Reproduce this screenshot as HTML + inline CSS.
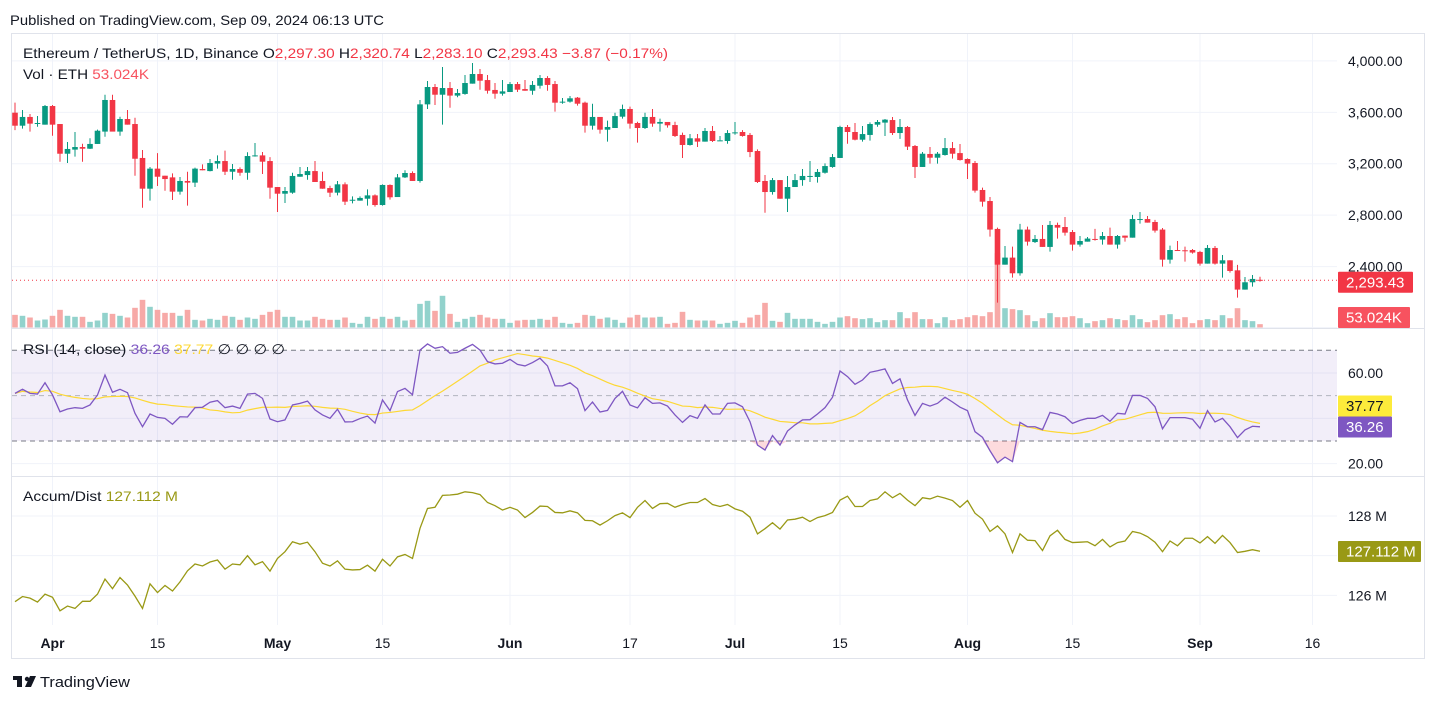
<!DOCTYPE html>
<html><head><meta charset="utf-8">
<style>
html,body{margin:0;padding:0;background:#fff;}
body{width:1438px;height:703px;overflow:hidden;font-family:"Liberation Sans",sans-serif;}
svg text{font-family:"Liberation Sans",sans-serif;}
</style></head>
<body>
<svg id="c" width="1438" height="703" xmlns="http://www.w3.org/2000/svg">
<text x="10" y="25" font-size="14" fill="#131722" textLength="374" lengthAdjust="spacingAndGlyphs">Published on TradingView.com, Sep 09, 2024 06:13 UTC</text>
<rect x="11.5" y="33.5" width="1413" height="625" fill="none" stroke="#e0e3eb"/>
<g id="grid"></g>
<rect x="12" y="350.3" width="1325" height="90.7" fill="rgba(126,87,194,0.1)"/>
<g id="marks"></g>
<line x1="12" y1="328.5" x2="1425" y2="328.5" stroke="#e0e3eb"/>
<line x1="12" y1="476.5" x2="1425" y2="476.5" stroke="#e0e3eb"/>
<g id="axes"></g>
<text x="23" y="58" font-size="14" fill="#131722" textLength="645" lengthAdjust="spacingAndGlyphs">Ethereum / TetherUS, 1D, Binance  O<tspan fill="#f23645">2,297.30</tspan>  H<tspan fill="#f23645">2,320.74</tspan>  L<tspan fill="#f23645">2,283.10</tspan>  C<tspan fill="#f23645">2,293.43</tspan>  <tspan fill="#f23645">−3.87 (−0.17%)</tspan></text>
<text x="23" y="79" font-size="14" fill="#131722" textLength="126" lengthAdjust="spacingAndGlyphs">Vol · ETH  <tspan fill="#f7525f">53.024K</tspan></text>
<text x="23" y="354" font-size="14" fill="#131722" textLength="262" lengthAdjust="spacingAndGlyphs">RSI (14, close) <tspan fill="#7e57c2">36.26</tspan> <tspan fill="#fdd835">37.77</tspan> <tspan fill="#131722">∅ ∅ ∅ ∅</tspan></text>
<text x="23" y="501" font-size="14" fill="#131722" textLength="155" lengthAdjust="spacingAndGlyphs">Accum/Dist  <tspan fill="#999915">127.112 M</tspan></text>
<g>
<rect x="13" y="676" width="9" height="4" fill="#131722"/><rect x="17" y="676" width="5" height="11" fill="#131722"/><circle cx="27" cy="679" r="2.2" fill="#131722"/><polygon points="30,676 36,676 31,687 25,687" fill="#131722"/>
<text x="40" y="687" font-size="15" fill="#131722" textLength="90" lengthAdjust="spacingAndGlyphs">TradingView</text>
</g>
</svg>
<script>
const opens=[3597,3496,3564,3512,3504,3649,3509,3278,3310,3330,
3317,3354,3450,3696,3450,3548,3509,3245,3006,3162,
3107,3094,2983,3066,3053,3159,3143,3201,3221,3138,
3159,3130,3260,3265,3221,3019,2967,2975,3099,3112,
3143,3066,3011,2975,3040,2918,2913,2928,2954,2879,
3035,2941,3094,3128,3066,3662,3797,3737,3789,3730,
3743,3823,3898,3851,3774,3745,3758,3820,3781,3768,
3807,3867,3820,3683,3683,3714,3675,3496,3564,3465,
3478,3566,3626,3517,3478,3564,3512,3525,3501,3424,
3346,3398,3372,3455,3382,3377,3439,3447,3424,3299,
3066,2980,3073,2928,3019,3073,3105,3097,3130,3175,
3245,3486,3447,3387,3424,3504,3520,3540,3439,3486,
3338,3175,3276,3247,3268,3322,3283,3237,3206,2996,
2910,2693,2415,2470,2348,2688,2591,2615,2553,2724,
2708,2669,2571,2594,2615,2610,2638,2571,2641,2625,
2770,2770,2747,2688,2454,2529,2527,2529,2514,2423,
2545,2423,2449,2371,2221,2278,2297.30];
const highs=[3675,3618,3587,3571,3657,3657,3509,3369,3447,3356,
3398,3465,3737,3737,3566,3618,3558,3307,3175,3283,
3107,3125,3097,3138,3170,3195,3237,3265,3302,3198,
3172,3289,3361,3291,3252,3019,3019,3130,3175,3175,
3221,3138,3029,3066,3055,2946,2946,3001,2962,3040,
3040,3120,3149,3141,3696,3844,3820,3953,3836,3781,
3890,3984,3937,3890,3828,3851,3836,3836,3851,3844,
3890,3882,3844,3711,3727,3719,3683,3667,3564,3535,
3597,3660,3644,3527,3597,3626,3551,3525,3527,3442,
3431,3431,3478,3494,3416,3462,3525,3462,3439,3312,
3112,3089,3073,3105,3120,3159,3221,3159,3203,3276,
3496,3501,3517,3494,3522,3540,3548,3564,3548,3494,
3346,3291,3330,3291,3400,3369,3354,3242,3221,3014,
2941,2703,2560,2555,2732,2711,2646,2724,2755,2742,
2786,2685,2638,2630,2693,2669,2703,2646,2641,2802,
2825,2794,2763,2700,2563,2599,2555,2537,2522,2568,
2560,2490,2449,2413,2319,2335,2320.74];
const lows=[3462,3473,3450,3488,3504,3418,3216,3206,3255,3216,
3315,3354,3410,3457,3418,3504,3107,2858,2913,3027,
2990,2918,2960,2874,3019,3149,3141,3162,3112,3076,
3107,3076,3255,3120,2928,2825,2895,2967,3099,3076,
3058,3006,2941,2954,2879,2892,2913,2874,2866,2874,
2921,2941,3089,3066,3053,3626,3657,3504,3636,3717,
3737,3823,3776,3745,3706,3730,3758,3758,3768,3737,
3784,3768,3605,3667,3675,3652,3442,3465,3434,3372,
3478,3551,3473,3364,3470,3488,3450,3481,3408,3245,
3341,3330,3372,3369,3382,3356,3426,3411,3252,3050,
2819,2960,2928,2825,3019,3029,3058,3053,3123,3169,
3245,3356,3382,3372,3380,3488,3416,3424,3393,3307,
3089,3175,3201,3201,3263,3240,3224,3081,2975,2866,
2633,2120,2415,2314,2330,2563,2584,2553,2516,2618,
2641,2524,2555,2594,2602,2571,2571,2540,2594,2625,
2734,2742,2664,2400,2423,2522,2439,2501,2408,2423,
2415,2314,2353,2159,2221,2244,2283.10];
const closes=[3496,3564,3512,3517,3649,3504,3278,3315,3330,3317,
3354,3457,3696,3450,3548,3504,3239,3006,3162,3099,
3081,2983,3066,3053,3162,3149,3206,3221,3138,3159,
3130,3260,3265,3216,3014,2967,2988,3105,3120,3143,
3058,3006,2975,3040,2905,2920,2934,2954,2879,3035,
2939,3094,3128,3066,3662,3797,3737,3789,3730,3750,
3828,3898,3846,3768,3745,3763,3820,3776,3768,3813,
3867,3813,3675,3683,3709,3667,3496,3564,3465,3486,
3571,3626,3512,3478,3564,3512,3525,3499,3416,3346,
3398,3372,3455,3377,3382,3439,3444,3416,3291,3058,
2980,3073,2928,3019,3073,3105,3105,3136,3182,3252,
3486,3447,3387,3431,3509,3525,3543,3439,3486,3333,
3175,3278,3247,3278,3322,3278,3229,3201,2991,2905,
2688,2415,2470,2348,2688,2594,2615,2553,2724,2703,
2664,2571,2599,2618,2610,2638,2571,2638,2625,2770,
2770,2742,2680,2454,2529,2527,2522,2509,2423,2545,
2423,2449,2366,2221,2278,2304,2293.43];
const volumes=[201,186,159,111,127,186,281,186,170,170,
90,111,233,217,186,159,313,440,329,281,
233,233,186,281,122,111,138,122,186,170,
122,159,138,201,249,281,170,170,111,111,
170,138,122,122,159,74,58,170,138,170,
138,170,111,122,376,424,265,504,217,90,
138,170,201,159,138,138,74,111,122,122,
138,122,170,74,58,74,201,186,138,159,
122,74,159,201,159,159,170,58,74,249,
122,111,111,111,58,74,106,74,159,201,
392,106,90,233,138,138,138,90,58,90,
159,180,148,133,148,85,117,117,244,148,
244,133,133,69,164,117,133,164,196,180,
244,1182,307,292,276,196,101,148,228,164,
164,180,148,69,101,117,148,133,117,196,
133,85,117,196,212,133,164,69,117,133,
117,196,148,307,117,101,53.024];
const rsi=[51.0,52.8,51.0,50.7,55.7,50.3,42.9,44.1,44.7,44.4,
45.9,50.3,59.1,51.5,52.8,51.3,42.2,36.3,41.9,40.4,
40.0,37.4,40.7,40.6,44.7,44.9,47.1,47.8,44.7,45.4,
44.4,50.7,51.0,48.8,39.7,38.5,39.3,45.9,46.6,47.6,
43.7,41.5,40.0,44.0,38.4,38.5,39.9,41.0,37.9,48.1,
43.4,51.8,53.2,50.4,70.1,72.8,70.9,71.6,68.7,69.1,
70.9,72.6,70.1,65.0,64.0,64.3,66.0,63.8,63.1,64.6,
66.5,63.1,54.3,54.3,55.7,53.1,43.4,47.2,42.8,43.5,
48.8,51.9,45.9,44.6,49.1,46.6,46.8,45.4,41.5,38.2,
41.2,40.0,45.9,41.9,41.9,46.6,46.8,45.1,38.5,28.2,
26.0,32.4,28.2,34.4,37.1,39.3,39.4,41.9,44.7,49.3,
60.9,58.4,55.0,56.9,60.3,61.0,61.8,55.4,57.4,48.1,
41.3,46.6,45.4,46.6,49.3,47.2,44.9,43.4,34.1,31.6,
25.7,20.4,22.9,20.9,38.2,36.3,36.3,35.0,42.6,41.9,
40.7,37.8,39.1,40.0,40.0,41.3,38.7,42.2,41.9,50.1,
50.1,48.8,45.1,35.4,40.3,40.3,40.3,39.6,35.6,43.4,
38.4,40.0,36.3,31.5,34.9,36.5,36.26];
const accDist=[125.84,125.97,125.93,125.83,126.03,125.95,125.61,125.73,125.67,125.85,
125.85,126.03,126.41,126.17,126.45,126.26,125.98,125.67,126.29,126.07,
126.25,126.11,126.34,126.62,126.79,126.74,126.84,126.89,126.66,126.79,
126.77,127.00,126.77,126.85,126.61,126.93,127.10,127.35,127.29,127.34,
127.10,126.81,126.74,126.87,126.66,126.64,126.65,126.76,126.61,126.91,
126.74,126.97,127.03,126.93,127.69,128.19,128.22,128.52,128.53,128.55,
128.61,128.59,128.54,128.34,128.26,128.15,128.22,128.15,127.96,128.09,
128.25,128.24,128.09,128.08,128.13,128.08,127.89,127.88,127.77,127.88,
128.01,128.08,127.96,128.22,128.39,128.19,128.31,128.32,128.22,128.29,
128.34,128.34,128.44,128.29,128.24,128.29,128.18,128.12,127.97,127.55,
127.68,127.83,127.67,127.90,127.92,127.97,127.86,127.96,128.01,128.09,
128.40,128.50,128.24,128.24,128.39,128.43,128.61,128.46,128.57,128.40,
128.26,128.46,128.43,128.50,128.45,128.39,128.22,128.39,128.07,127.92,
127.61,127.75,127.55,127.08,127.55,127.39,127.38,127.13,127.50,127.64,
127.41,127.33,127.34,127.35,127.25,127.41,127.22,127.33,127.37,127.61,
127.57,127.48,127.34,127.10,127.37,127.25,127.44,127.44,127.32,127.48,
127.31,127.51,127.33,127.08,127.11,127.15,127.112];
const priceTicks=[4000,3600,3200,2800,2400];
const priceTickLabels=["4,000.00","3,600.00","3,200.00","2,800.00","2,400.00"];
const rsiTicks=[60,20];
const rsiTickLabels=["60.00","20.00"];
const adTicks=[128,126];
const adTickLabels=["128 M","126 M"];
const dateTickIdx=[5,19,35,49,66,82,96,110,127,141,158,173];
const dateTickLabels=["Apr","15","May","15","Jun","17","Jul","15","Aug","15","Sep","16"];
const dateTickBold=[1,0,1,0,1,0,1,0,1,0,1,0];

const NS="http://www.w3.org/2000/svg";
const X=i=>15+7.5*i;
const YP=p=>60.9+(4000-p)*0.12856;
const YV=v=>327.5-v*0.0629;
const YR=v=>350.3+(70-v)*2.2675;
const YA=m=>516+(128-m)*39.67;
function mk(tag,attrs,parent){const e=document.createElementNS(NS,tag);for(const k in attrs)e.setAttribute(k,attrs[k]);parent.appendChild(e);return e;}
const grid=document.getElementById('grid'),marks=document.getElementById('marks'),axes=document.getElementById('axes');
dateTickIdx.forEach((d,k)=>{
  const x=X(d);
  const l=mk('line',{x1:x,y1:34,x2:x,y2:625,stroke:'#f0f3fa'},grid);
  
  
  const t=mk('text',{x:x,y:648,'font-size':14,'text-anchor':'middle',fill:'#131722','font-weight':dateTickBold[k]?'bold':'normal'},axes);
  t.textContent=dateTickLabels[k];
  
  
});
priceTicks.forEach((p,k)=>{
  const y=YP(p);
  const l=mk('line',{x1:12,y1:y,x2:1337,y2:y,stroke:'#f0f3fa'},grid);
  
  
  const t=mk('text',{x:1348,y:y+5,'font-size':14,fill:'#131722'},axes);
  t.textContent=priceTickLabels[k];
  
  
});
[80,60,40,20].forEach(v=>{const l=mk('line',{x1:12,y1:YR(v),x2:1337,y2:YR(v),stroke:'#f0f3fa'},grid);
  
  });
rsiTicks.forEach((v,k)=>{const t=mk('text',{x:1348,y:YR(v)+5,'font-size':14,fill:'#131722'},axes);t.textContent=rsiTickLabels[k];
  
  });
[128,127,126].forEach(v=>{const l=mk('line',{x1:12,y1:YA(v),x2:1337,y2:YA(v),stroke:'#f0f3fa'},grid);
  
  });
adTicks.forEach((v,k)=>{const t=mk('text',{x:1348,y:YA(v)+5,'font-size':14,fill:'#131722'},axes);t.textContent=adTickLabels[k];
  
  });
[70,50,30].forEach(v=>{const l=mk('line',{x1:12,y1:YR(v),x2:1337,y2:YR(v),stroke:v==50?'#b2b5be':'#787b86','stroke-dasharray':'5,4'},marks);
  
  });
volumes.forEach((v,i)=>{const up=closes[i]>=opens[i];
  const r=mk('rect',{x:X(i)-2.8,y:YV(v),width:5.6,height:327.5-YV(v),fill:up?'#92d2cc':'#f7a9a7'},marks);
  
  });
opens.forEach((o,i)=>{const c=closes[i],up=c>=o,col=up?'#089981':'#f23645',x=X(i);
  const w=mk('line',{x1:x,y1:YP(highs[i]),x2:x,y2:YP(lows[i]),stroke:col,'stroke-width':1},marks);
  
  
  const top=YP(Math.max(o,c)),h=Math.max(1,YP(Math.min(o,c))-top);
  const b=mk('rect',{x:x-2.8,y:top,width:5.6,height:h,fill:col},marks);
  
  });
const lp=closes[closes.length-1];
const pl=mk('line',{x1:12,y1:YP(lp),x2:1337,y2:YP(lp),stroke:'#f23645','stroke-dasharray':'1,3'},marks);


const clip=mk('clipPath',{id:'os'},marks);mk('rect',{x:12,y:YR(30),width:1325,height:40},clip);
let fp='M'+X(0)+','+YR(30);rsi.forEach((v,i)=>fp+='L'+X(i)+','+Math.max(YR(30),YR(v)));fp+='L'+X(rsi.length-1)+','+YR(30)+'Z';
const osf=mk('path',{d:fp,fill:'rgba(242,54,69,0.18)','clip-path':'url(#os)'},marks);


const ma=rsi.map((v,i)=>{const s=rsi.slice(Math.max(0,i-13),i+1);return s.reduce((a,b)=>a+b,0)/s.length;});
const mp=mk('path',{d:ma.map((v,i)=>(i?'L':'M')+X(i)+','+YR(v)).join(''),fill:'none',stroke:'#fdd835','stroke-width':1.2},marks);


const rp=mk('path',{d:rsi.map((v,i)=>(i?'L':'M')+X(i)+','+YR(v)).join(''),fill:'none',stroke:'#7e57c2','stroke-width':1.3},marks);


const ap=mk('path',{d:accDist.map((v,i)=>(i?'L':'M')+X(i)+','+YA(v)).join(''),fill:'none',stroke:'#999915','stroke-width':1.3},marks);


function badge(name,y,txt,bg,fg,w){const g=mk('g',{},axes);
  
  
  mk('rect',{x:1338,y:y-10.5,width:w,height:21,fill:bg,rx:1},g);
  const t=mk('text',{x:1346,y:y+5,'font-size':15,fill:fg},g);t.textContent=txt;}
badge('last-price-badge',YP(lp)+2,lp.toLocaleString('en-US',{minimumFractionDigits:2}),'#f23645','#fff',75);
badge('volume-badge',317.5,volumes[volumes.length-1].toFixed(3)+'K','#f7525f','#fff',72);
badge('rsi-ma-badge',406,ma[ma.length-1].toFixed(2),'#fdeb3b','#131722',54);
badge('rsi-badge',427,rsi[rsi.length-1].toFixed(2),'#7e57c2','#fff',54);
badge('ad-badge',551.5,accDist[accDist.length-1].toFixed(3)+' M','#999915','#fff',83);
</script>
</body></html>
